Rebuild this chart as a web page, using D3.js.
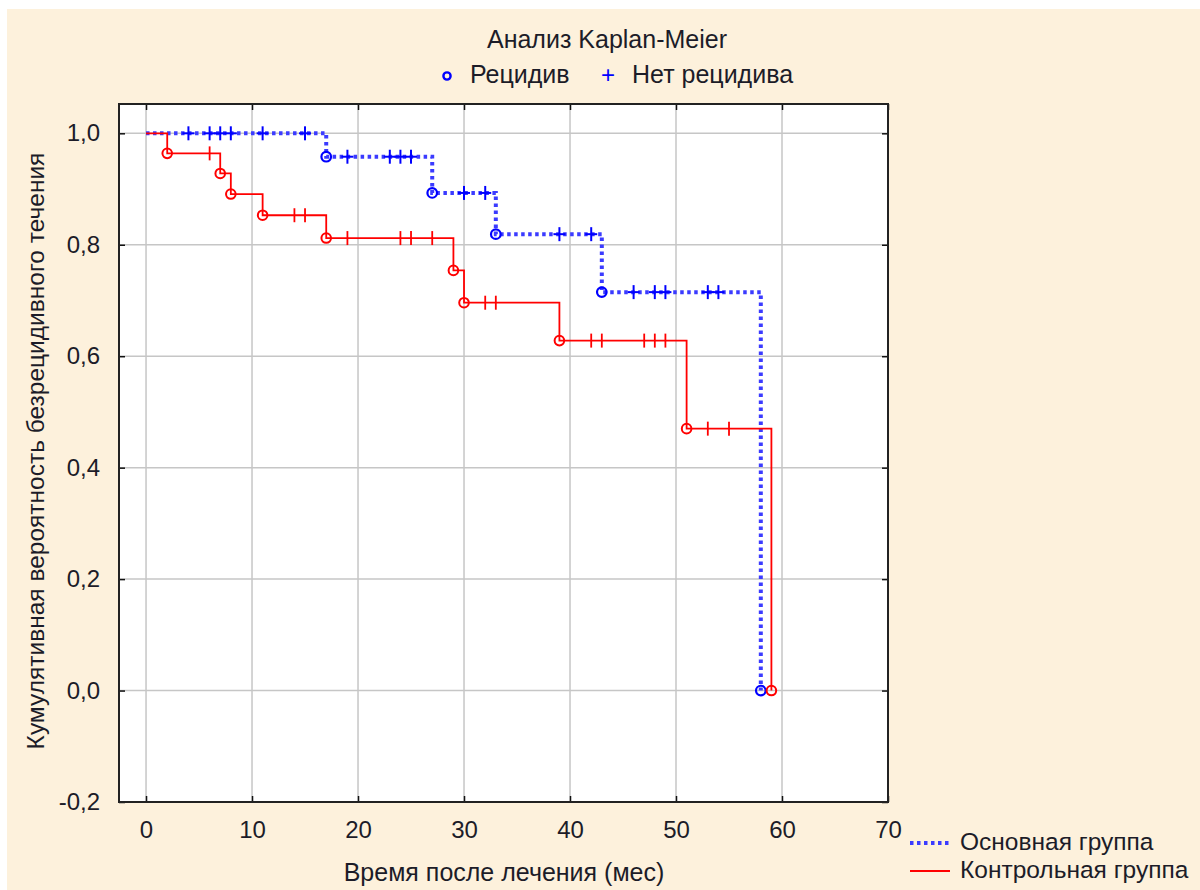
<!DOCTYPE html>
<html><head><meta charset="utf-8">
<script src="https://cdn.jsdelivr.net/npm/d3@7"></script>
<style>html,body{margin:0;padding:0;background:#fff;}svg{display:block;}</style>
</head><body>
<svg id="chart" width="1200" height="890"></svg>
<script>
// ---- data ----
const chartTitle = "Анализ Kaplan-Meier";
const xLabel = "Время после лечения (мес)";
const yLabel = "Кумулятивная вероятность безрецидивного течения";
const seriesNames = ["Основная группа", "Контрольная группа"];
const markerNames = ["Рецидив", "Нет рецидива"];
const xTicks = [0, 10, 20, 30, 40, 50, 60, 70];
const yTicks = [-0.2, 0.0, 0.2, 0.4, 0.6, 0.8, 1.0];
const yTickLabels = ["-0,2", "0,0", "0,2", "0,4", "0,6", "0,8", "1,0"];

const mainEventTimes = [17, 27, 33, 43, 58];
const mainEventSurv = [0.958, 0.893, 0.819, 0.715, 0.0];
const mainCensorTimes = [4, 6, 7, 8, 11, 15, 19, 23, 24, 25, 30, 32, 39, 42, 46, 48, 49, 53, 54];

const ctrlEventTimes = [2, 7, 8, 11, 17, 29, 30, 39, 51, 59];
const ctrlEventSurv = [0.964, 0.928, 0.891, 0.853, 0.812, 0.754, 0.696, 0.628, 0.470, 0.0];
const ctrlCensorTimes = [6, 14, 15, 19, 24, 25, 27, 32, 33, 42, 43, 47, 48, 49, 53, 55];

// ---- layout ----
const svg = d3.select("#chart");
const font = "'Liberation Sans', Arial, sans-serif";
const textCol = "#1c1c28";
const L = 119, R = 888, T = 104, B = 802;
const x = d3.scaleLinear().domain([-2.55, 70]).range([L, R]);
const y = d3.scaleLinear().domain([-0.2, 1.0526]).range([B, T]);

svg.append("rect").attr("x", 7).attr("y", 9).attr("width", 1193).attr("height", 881).attr("fill", "#fdf1dc");
svg.append("rect").attr("x", L).attr("y", T).attr("width", R - L).attr("height", B - T).attr("fill", "#fff");

// grid
const grid = svg.append("g").attr("stroke", "#c6c6c6").attr("stroke-width", 1.5);
xTicks.filter(v => v < 70).forEach(v => grid.append("line").attr("x1", x(v)).attr("x2", x(v)).attr("y1", T).attr("y2", B));
yTicks.filter(v => v > -0.2).forEach(v => grid.append("line").attr("x1", L).attr("x2", R).attr("y1", y(v)).attr("y2", y(v)));

// axes (ticks inside)
const axL = d3.axisLeft(y).tickValues(yTicks).tickSize(-6).tickFormat((d, i) => yTickLabels[i]).tickPadding(19);
const axB = d3.axisBottom(x).tickValues(xTicks).tickSize(-6).tickFormat(d3.format("d")).tickPadding(19);
const axR = d3.axisRight(y).tickValues(yTicks).tickSize(-6).tickFormat("");
const axT = d3.axisTop(x).tickValues(xTicks).tickSize(-6).tickFormat("");
function styleAxis(g) {
  g.select(".domain").remove();
  g.selectAll(".tick line").attr("stroke", "#111").attr("stroke-width", 1.5);
  g.selectAll(".tick text").attr("font-family", font).attr("font-size", 24).attr("fill", textCol);
}
svg.append("g").attr("transform", `translate(${L},0)`).call(axL).call(styleAxis);
svg.append("g").attr("transform", `translate(0,${B})`).call(axB).call(styleAxis);
svg.append("g").attr("transform", `translate(${R},0)`).call(axR).call(styleAxis);
svg.append("g").attr("transform", `translate(0,${T})`).call(axT).call(styleAxis);

svg.append("rect").attr("x", L).attr("y", T).attr("width", R - L).attr("height", B - T)
  .attr("fill", "none").attr("stroke", "#222").attr("stroke-width", 2);

// survival curves
const blue = "#0000ff", red = "#ff0000";
const stepLine = d3.line().x(d => x(d[0])).y(d => y(d[1])).curve(d3.curveStepAfter);
function pts(times, surv) { return [[0, 1]].concat(times.map((t, i) => [t, surv[i]])); }
function survAt(times, surv, t) {
  let s = 1;
  times.forEach((et, i) => { if (et <= t) s = surv[i]; });
  return s;
}
const mainPts = pts(mainEventTimes, mainEventSurv);
const ctrlPts = pts(ctrlEventTimes, ctrlEventSurv);

svg.append("path").attr("d", stepLine(mainPts)).attr("fill", "none")
  .attr("stroke", "#3b3bff").attr("stroke-width", 4).attr("stroke-dasharray", "3.5,3.5");
svg.append("path").attr("d", stepLine(ctrlPts)).attr("fill", "none")
  .attr("stroke", red).attr("stroke-width", 1.8);

// censor marks
const mc = svg.append("g").attr("stroke", blue).attr("stroke-width", 2);
mainCensorTimes.forEach(t => {
  const cx = x(t), cy = y(survAt(mainEventTimes, mainEventSurv, t));
  mc.append("line").attr("x1", cx - 6).attr("x2", cx + 6).attr("y1", cy).attr("y2", cy);
  mc.append("line").attr("x1", cx).attr("x2", cx).attr("y1", cy - 7).attr("y2", cy + 7);
});
const rc = svg.append("g").attr("stroke", red).attr("stroke-width", 1.8);
ctrlCensorTimes.forEach(t => {
  const cx = x(t), cy = y(survAt(ctrlEventTimes, ctrlEventSurv, t));
  rc.append("line").attr("x1", cx).attr("x2", cx).attr("y1", cy - 7).attr("y2", cy + 7);
});

// event circles
svg.append("g").selectAll("circle").data(mainEventTimes).join("circle")
  .attr("cx", d => x(d)).attr("cy", (d, i) => y(mainEventSurv[i])).attr("r", 4.8)
  .attr("fill", "none").attr("stroke", blue).attr("stroke-width", 2.2);
svg.append("g").selectAll("circle").data(ctrlEventTimes).join("circle")
  .attr("cx", d => x(d)).attr("cy", (d, i) => y(ctrlEventSurv[i])).attr("r", 4.8)
  .attr("fill", "none").attr("stroke", red).attr("stroke-width", 2);

// titles
svg.append("text").attr("x", 607).attr("y", 48).attr("text-anchor", "middle")
  .attr("font-family", font).attr("font-size", 25).attr("fill", textCol).text(chartTitle);
svg.append("circle").attr("cx", 447).attr("cy", 76).attr("r", 3.6).attr("fill", "none").attr("stroke", blue).attr("stroke-width", 2.4);
svg.append("text").attr("x", 470).attr("y", 83).attr("font-family", font).attr("font-size", 25).attr("fill", textCol).text(markerNames[0]);
svg.append("text").attr("x", 608).attr("y", 83).attr("text-anchor", "middle").attr("font-family", font).attr("font-size", 24).attr("fill", blue).text("+");
svg.append("text").attr("x", 632).attr("y", 83).attr("font-family", font).attr("font-size", 25).attr("fill", textCol).text(markerNames[1]);

svg.append("text").attr("x", 504).attr("y", 881).attr("text-anchor", "middle")
  .attr("font-family", font).attr("font-size", 25).attr("fill", textCol).text(xLabel);
svg.append("text").attr("transform", "translate(44,451) rotate(-90)").attr("text-anchor", "middle")
  .attr("font-family", font).attr("font-size", 24.5).attr("fill", textCol).text(yLabel);

// bottom legend
svg.append("line").attr("x1", 910).attr("x2", 950).attr("y1", 843).attr("y2", 843)
  .attr("stroke", "#3b3bff").attr("stroke-width", 4).attr("stroke-dasharray", "3.5,3.5");
svg.append("text").attr("x", 960).attr("y", 850).attr("font-family", font).attr("font-size", 24.5).attr("fill", textCol).text(seriesNames[0]);
svg.append("line").attr("x1", 910).attr("x2", 950).attr("y1", 871).attr("y2", 871)
  .attr("stroke", red).attr("stroke-width", 1.8);
svg.append("text").attr("x", 960).attr("y", 878).attr("font-family", font).attr("font-size", 24.5).attr("fill", textCol).text(seriesNames[1]);
</script>
</body></html>
